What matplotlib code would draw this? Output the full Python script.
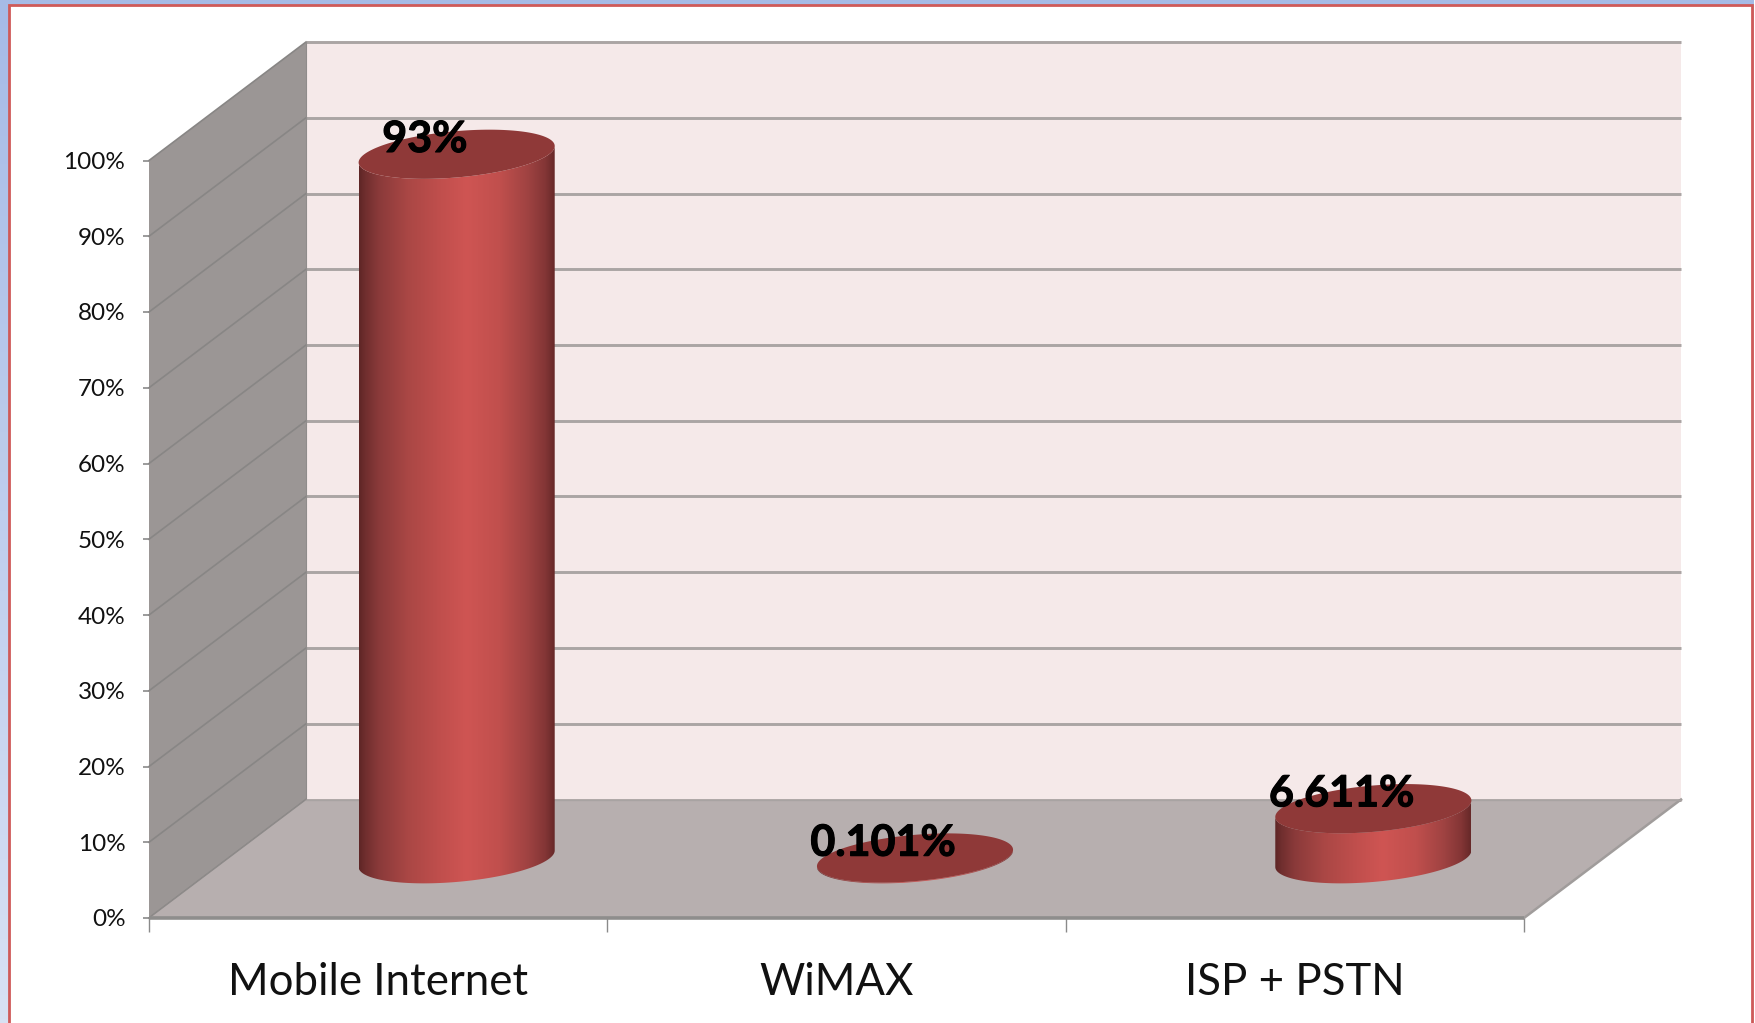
import numpy as np
import matplotlib
matplotlib.use("Agg")
import matplotlib.pyplot as plt
import matplotlib.patheffects as pe
from matplotlib.colors import LinearSegmentedColormap
from matplotlib.patches import Polygon

categories = ["Mobile Internet", "WiMAX", "ISP + PSTN"]
values = [93, 0.101, 6.611]
value_labels = ["93%", "0.101%", "6.611%"]
y_ticks = [0, 10, 20, 30, 40, 50, 60, 70, 80, 90, 100]
y_tick_labels = [f"{v}%" for v in y_ticks]

W, H = 1756, 1023
plt.rcParams["font.family"] = ["Lato", "DejaVu Sans"]
fig = plt.figure(figsize=(W / 100, H / 100), dpi=100)

# Slide background and frame
bg = fig.add_axes([0, 0, 1, 1], zorder=0)
bg.set_xlim(0, W); bg.set_ylim(H, 0); bg.axis("off")
blue = LinearSegmentedColormap.from_list("b", ["#a6bbe6", "#d8e1f3"])
bg.imshow(np.linspace(0, 1, 256)[:, None], cmap=blue, extent=[0, W, H, 0], aspect="auto")
bg.set_xlim(0, W); bg.set_ylim(H, 0)
bg.add_patch(plt.Rectangle((9, 5), W - 12 - 9 + 8, H, fc="white", ec="#cf5a58", lw=2.0))
bg.add_patch(plt.Rectangle((1754.5, 0), 2, H, fc="white", ec="none"))

# Chart axes: front plane of the 3-D box
x0, x1, y0, y1 = 149, 1524, 918, 160.5
ax = fig.add_axes([x0 / W, 1 - y0 / H, (x1 - x0) / W, (y0 - y1) / H], zorder=1)
ax.set_xlim(0, 3); ax.set_ylim(0, 100)
ax.patch.set_alpha(0)
for s in ax.spines.values():
    s.set_visible(False)
px_x = (x1 - x0) / 3
px_y = (y0 - y1) / 100
dd = 157 / px_x   # depth in x units
dv = 118.5 / px_y   # depth in value units

ax.add_patch(Polygon([(0, 0), (dd, dv), (dd, 100 + dv), (0, 100)], fc="#9b9695", ec="none", clip_on=False, zorder=1))
ax.add_patch(Polygon([(dd, dv), (3 + dd, dv), (3 + dd, 100 + dv), (dd, 100 + dv)], fc="#f5e9e9", ec="none", clip_on=False, zorder=1))
ax.add_patch(Polygon([(0, 0), (3, 0), (3 + dd, dv), (dd, dv)], fc="#b7afaf", ec="none", clip_on=False, zorder=2))

for v in y_ticks:
    ax.plot([dd, 3 + dd], [v + dv, v + dv], color="#aaa5a4", lw=2.1, clip_on=False, zorder=1.5, solid_capstyle="butt")
    ax.plot([0, dd], [v, v + dv], color="#888685", lw=1.2, clip_on=False, zorder=1.5)
ax.plot([dd, dd], [dv, 100 + dv], color="#8f8c8b", lw=0.8, clip_on=False, zorder=1.6)
ax.plot([0, dd], [0, dv], color="#8d8a89", lw=0.9, clip_on=False, zorder=2.1)
ax.plot([3, 3 + dd], [0, dv], color="#a09c9b", lw=1.8, clip_on=False, zorder=2.1)
ax.plot([0, 3], [0, 0], color="#8e8d8c", lw=2.6, clip_on=False, zorder=2.2, solid_capstyle="butt")
ax.plot([dd, 3 + dd], [dv, dv], color="#a8a3a2", lw=1.0, clip_on=False, zorder=2.1)

# Ticks and labels
ax.set_yticks(y_ticks, y_tick_labels, fontsize=17.5, color="#111111")
ax.tick_params(axis="y", length=4, width=1.2, color="#8a8a8a", pad=13)
ax.set_xticks([0, 1, 2, 3], ["", "", "", ""])
ax.tick_params(axis="x", which="major", length=10, width=1.0, color="#8a8a8a")
ax.set_xticks([0.5, 1.5, 2.5], categories, minor=True, fontsize=31.5, color="#111111")
ax.tick_params(axis="x", which="minor", length=0, pad=32)

# Cylinders
A, Bx, By = 92.4, 32.8, 24.6
shade = LinearSegmentedColormap.from_list("c", [
    (0.00, "#5e2626"), (0.03, "#6f2e2e"), (0.10, "#8a3a3a"), (0.25, "#aa4745"), (0.42, "#c14f4d"),
    (0.55, "#cf5553"), (0.72, "#c04f4d"), (0.86, "#a04342"), (0.95, "#843636"), (1.00, "#672929")])
t = np.linspace(0, 2 * np.pi, 241)
ex = (A * np.cos(t) + Bx * np.sin(t)) / px_x
ey = (By * np.sin(t)) / px_y
t0 = np.arctan2(Bx, A)
arc = np.linspace(t0, t0 - np.pi, 121)
ax_ = (A * np.cos(arc) + Bx * np.sin(arc)) / px_x
ay_ = (By * np.sin(arc)) / px_y
half = 98 / px_x
pad_v = 30 / px_y

for i, (val, lab) in enumerate(zip(values, value_labels)):
    cx = i + 0.5 + dd / 2
    cy = dv / 2
    body = np.vstack([np.c_[cx + ax_, cy + ay_],
                      np.c_[cx + ax_[::-1], cy + val + ay_[::-1]]])
    clip = Polygon(body, closed=True, transform=ax.transData, fc="none", ec="none", clip_on=False)
    ax.add_patch(clip)
    im = ax.imshow(np.linspace(0, 1, 256)[None, :], cmap=shade, aspect="auto",
                   extent=[cx - half, cx + half, cy - pad_v, cy + val + pad_v], zorder=3, interpolation="bilinear")
    im.set_clip_box(fig.bbox)
    im.set_clip_path(clip)
    ax.add_patch(Polygon(np.c_[cx + ex, cy + val + ey], closed=True, fc="#8f3938", ec="none", zorder=4, clip_on=False))
    ax.annotate(lab, (cx, cy + val), xytext=(-23, 11), textcoords="offset points",
                ha="center", va="center", fontsize=31, fontweight="bold", color="black",
                zorder=5, annotation_clip=False,
                path_effects=[pe.withStroke(linewidth=0.8, foreground="black")])
ax.set_xlim(0, 3); ax.set_ylim(0, 100)

fig.savefig("out.png", dpi=100)
